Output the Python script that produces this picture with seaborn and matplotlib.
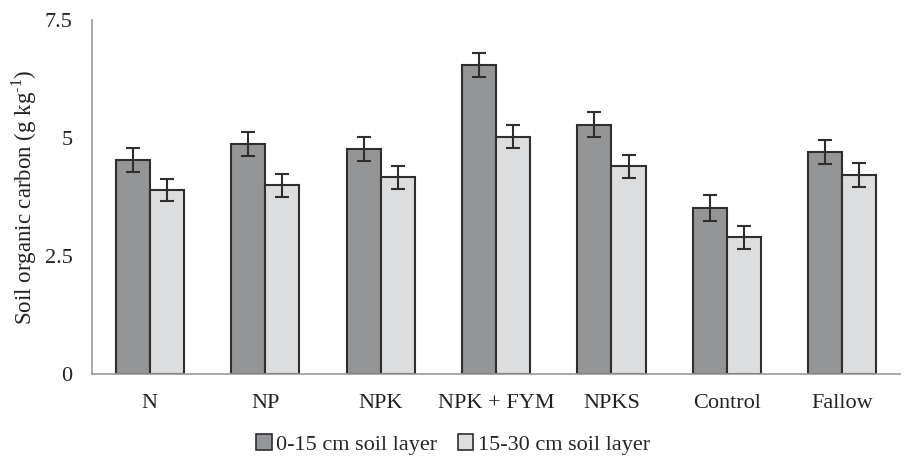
import pandas as pd
import matplotlib.pyplot as plt
import seaborn as sns
from matplotlib.patches import Patch

treatments = ["N", "NP", "NPK", "NPK + FYM", "NPKS", "Control", "Fallow"]
layers = ["0-15 cm soil layer", "15-30 cm soil layer"]
soc_0_15 = [4.53, 4.87, 4.77, 6.55, 5.28, 3.52, 4.70]
soc_15_30 = [3.90, 4.00, 4.17, 5.03, 4.40, 2.90, 4.21]
err_0_15 = [0.26, 0.26, 0.26, 0.25, 0.26, 0.27, 0.26]
err_15_30 = [0.24, 0.24, 0.24, 0.24, 0.24, 0.24, 0.25]
y_ticks = [0, 2.5, 5, 7.5]
y_tick_labels = ["0", "2.5", "5", "7.5"]

df = pd.DataFrame({
    "treatment": treatments * 2,
    "layer": [layers[0]] * len(treatments) + [layers[1]] * len(treatments),
    "soc": soc_0_15 + soc_15_30,
})
errors = {layers[0]: err_0_15, layers[1]: err_15_30}

sns.set_theme(style="white")
plt.rcParams["font.family"] = ["Liberation Serif", "DejaVu Serif"]
plt.rcParams["mathtext.fontset"] = "custom"
plt.rcParams["mathtext.rm"] = "Liberation Serif"

colors = ["#939598", "#dcdddf"]
edge = "#2e2e2e"
txt = "#222222"

fig = plt.figure(figsize=(9.06, 4.62), dpi=100)
ax = fig.add_axes([0.1015, 0.19, 0.892, 0.767])

sns.barplot(data=df, x="treatment", y="soc", hue="layer", order=treatments,
            hue_order=layers, palette=colors, errorbar=None, width=0.59,
            edgecolor=edge, linewidth=1.5, ax=ax, legend=False)

for container, layer in zip(ax.containers, layers):
    xs = [p.get_x() + p.get_width() / 2 for p in container]
    ys = [p.get_height() for p in container]
    ax.errorbar(xs, ys, yerr=errors[layer], fmt="none", ecolor=edge,
                elinewidth=1.5, capsize=5, capthick=1.5, zorder=5)

ax.set_ylim(0, 7.5)
ax.set_xlim(-0.5, len(treatments) - 0.5)
ax.set_yticks(y_ticks)
ax.set_yticklabels(y_tick_labels)
ax.set_xticks(range(len(treatments)))
ax.set_xticklabels(treatments)
ax.tick_params(axis="x", length=0, labelsize=16, pad=14, colors=txt)
ax.tick_params(axis="y", length=5, width=1, color="#999999", labelsize=16,
               pad=9, labelcolor=txt)
# ticks between categories on the x axis
ax.set_xticks([i + 0.5 for i in range(len(treatments) - 1)], minor=True)
ax.tick_params(axis="x", which="minor", length=6, width=1, color="#999999",
               direction="out")

ax.set_xlabel("")
ax.set_ylabel(r"Soil organic carbon (g kg$^{\text{-1}}$)", fontsize=16.5,
              color=txt, labelpad=4)

for side in ["top", "right"]:
    ax.spines[side].set_visible(False)
for side in ["left", "bottom"]:
    ax.spines[side].set_color("#999999")
    ax.spines[side].set_linewidth(1.2)

handles = [Patch(facecolor=c, edgecolor=edge, linewidth=1.2) for c in colors]
fig.legend(handles, layers, loc="center", bbox_to_anchor=(0.5, 0.038), ncol=2,
           frameon=False, fontsize=16, handlelength=0.7, handleheight=0.7,
           handletextpad=0.2, columnspacing=0.9)

fig.savefig("out.png", dpi=100)
